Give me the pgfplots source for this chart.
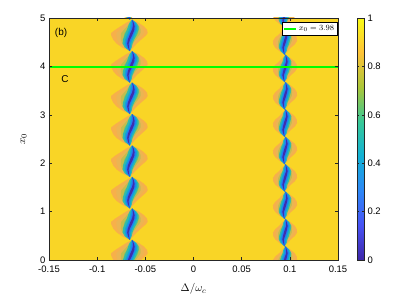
\documentclass[border=0pt]{standalone}
\usepackage{pgfplots}
\usepackage{pgfplotstable}
\pgfplotsset{compat=1.18}
\usepackage{fontspec}
\setmainfont{Liberation Sans}
\pgfplotsset{colormap={parula}{rgb=(0.2422,0.1504,0.6603) rgb=(0.2810,0.3228,0.9579) rgb=(0.1786,0.5289,0.9682) rgb=(0.0689,0.6948,0.8394) rgb=(0.2161,0.7843,0.5923) rgb=(0.6720,0.7793,0.2227) rgb=(0.9970,0.7659,0.2199) rgb=(0.9769,0.9839,0.0805)}}
\definecolor{bgc}{rgb}{0.975,0.835,0.15}
\definecolor{ca}{rgb}{0.97,0.69,0.29}
\definecolor{cb}{rgb}{0.92,0.71,0.32}
\definecolor{cc}{rgb}{0.76,0.74,0.31}
\definecolor{cd}{rgb}{0.48,0.77,0.42}
\definecolor{ce}{rgb}{0.20,0.73,0.66}
\definecolor{cf}{rgb}{0.06,0.65,0.86}
\definecolor{cg}{rgb}{0.15,0.47,0.96}
\definecolor{ch}{rgb}{0.24,0.18,0.68}
\definecolor{lgreen}{RGB}{0,255,0}
% left-column feature shape (x: offset in Delta, y: offset in x0)
\pgfplotstableread{
x y
-0.0010 -0.325
0.00245 -0.25
0.0061 -0.17
0.0105 -0.09
0.0157 0.0
0.0175 0.05
0.0167 0.12
0.0134 0.19
0.0083 0.26
0.0012 0.325
-0.0050 0.26
-0.0105 0.19
-0.0160 0.12
-0.0205 0.05
-0.0204 0.0
-0.0183 -0.09
-0.0148 -0.17
-0.0090 -0.25
-0.0010 -0.325
}\LLa
\pgfplotstableread{
x y
-0.0010 -0.325
0.00125 -0.25
0.0039 -0.17
0.0075 -0.09
0.0119 0.0
0.0135 0.05
0.01325 0.12
0.0109 0.19
0.0069 0.26
0.0012 0.325
-0.0031 0.26
-0.0071 0.19
-0.0113 0.12
-0.0150 0.05
-0.0152 0.0
-0.0142 -0.09
-0.0118 -0.17
-0.0073 -0.25
-0.0010 -0.325
}\LLb
\pgfplotstableread{
x y
-0.0010 -0.325
0.0002 -0.25
0.00195 -0.17
0.00484 -0.09
0.00855 0.0
0.0100 0.05
0.01024 0.12
0.00867 0.19
0.00565 0.26
0.0012 0.325
-0.00135 0.26
-0.00393 0.19
-0.00696 0.12
-0.0100 0.05
-0.01045 0.0
-0.01036 -0.09
-0.00905 -0.17
-0.0058 -0.25
-0.0010 -0.325
}\LLc
\pgfplotstableread{
x y
-0.0010 -0.325
-0.00055 -0.25
0.000575 -0.17
0.00294 -0.09
0.006175 0.0
0.0075 0.05
0.00809 0.12
0.0071 0.19
0.00478 0.26
0.0012 0.325
-0.000125 0.26
-0.001725 0.19
-0.00395 0.12
-0.0065 0.05
-0.007125 0.0
-0.0077 -0.09
-0.007125 -0.17
-0.00475 -0.25
-0.0010 -0.325
}\LLd
\pgfplotstableread{
x y
-0.0010 -0.325
0.0008 -0.25
0.001675 -0.17
0.003335 -0.09
0.0055 0.0
0.0065 0.05
0.0080 0.12
0.00795 0.19
0.0058 0.26
0.0012 0.325
-0.0014 0.26
-0.00285 0.19
-0.0040 0.12
-0.0055 0.05
-0.0065 0.0
-0.008305 -0.09
-0.008525 -0.17
-0.0064 -0.25
-0.0010 -0.325
}\LLe
\pgfplotstableread{
x y
-0.0010 -0.325
-0.00022 -0.25
0.00023 -0.17
0.001686 -0.09
0.0038 0.0
0.0048 0.05
0.0063 0.12
0.00642 0.19
0.00478 0.26
0.0012 0.325
-0.00002 0.26
-0.00078 0.19
-0.0017 0.12
-0.0032 0.05
-0.0042 0.0
-0.006074 -0.09
-0.00657 -0.17
-0.00502 -0.25
-0.0010 -0.325
}\LLf
\pgfplotstableread{
x y
-0.0010 -0.325
-0.00112 -0.25
-0.001045 -0.17
0.000231 -0.09
0.0023 0.0
0.0033 0.05
0.0048 0.12
0.00507 0.19
0.00388 0.26
0.0012 0.325
0.00094 0.26
0.00066 0.19
-0.0001 0.12
-0.0016 0.05
-0.0026 0.0
-0.004522 -0.09
-0.00521 -0.17
-0.00406 -0.25
-0.0010 -0.325
}\LLg
\pgfplotstableread{
x y
-0.0010 -0.325
-0.00211 -0.25
-0.002285 -0.17
-0.00101 -0.09
0.001235 0.0
0.0023 0.05
0.00362 0.12
0.00382 0.19
0.00296 0.26
0.0012 0.325
0.001975 0.26
0.002055 0.19
0.00121 0.12
-0.0005 0.05
-0.001425 0.0
-0.00314 -0.09
-0.003825 -0.17
-0.00295 -0.25
-0.0010 -0.325
}\LLh
% right-column feature shape
\pgfplotstableread{
x y
-0.0005 -0.283
0.002875 -0.21
0.006125 -0.14
0.01025 -0.07
0.0125 0
0.01225 0.07
0.010125 0.14
0.005875 0.21
0.0005 0.283
-0.002875 0.21
-0.006125 0.14
-0.01025 0.07
-0.0125 0
-0.01225 -0.07
-0.010125 -0.14
-0.005875 -0.21
-0.0005 -0.283
}\RRa
\pgfplotstableread{
x y
-0.0005 -0.283
0.001825 -0.21
0.004175 -0.14
0.00755 -0.07
0.0095 0
0.00955 0.07
0.008175 0.14
0.004825 0.21
0.0005 0.283
-0.001825 0.21
-0.004175 0.14
-0.00755 0.07
-0.0095 0
-0.00955 -0.07
-0.008175 -0.14
-0.004825 -0.21
-0.0005 -0.283
}\RRb
\pgfplotstableread{
x y
-0.0005 -0.283
0.00095 -0.21
0.00255 -0.14
0.0053 -0.07
0.0070 0
0.0073 0.07
0.00655 0.14
0.00395 0.21
0.0005 0.283
-0.00095 0.21
-0.00255 0.14
-0.0053 0.07
-0.0070 0
-0.0073 -0.07
-0.00655 -0.14
-0.00395 -0.21
-0.0005 -0.283
}\RRc
\pgfplotstableread{
x y
-0.0005 -0.283
0.00025 -0.21
0.00125 -0.14
0.0035 -0.07
0.0050 0
0.0055 0.07
0.00525 0.14
0.00325 0.21
0.0005 0.283
-0.00025 0.21
-0.00125 0.14
-0.0035 0.07
-0.0050 0
-0.0055 -0.07
-0.00525 -0.14
-0.00325 -0.21
-0.0005 -0.283
}\RRd
\pgfplotstableread{
x y
-0.0005 -0.283
0.00175 -0.21
0.0025 -0.14
0.0040 -0.07
0.0050 0
0.0060 0.07
0.0065 0.14
0.00475 0.21
0.0005 0.283
-0.00175 0.21
-0.0025 0.14
-0.0040 0.07
-0.0050 0
-0.0060 -0.07
-0.0065 -0.14
-0.00475 -0.21
-0.0005 -0.283
}\RRe
\pgfplotstableread{
x y
-0.0005 -0.283
0.000775 -0.21
0.00115 -0.14
0.0025 -0.07
0.0035 0
0.0045 0.07
0.00515 0.14
0.003775 0.21
0.0005 0.283
-0.000775 0.21
-0.00115 0.14
-0.0025 0.07
-0.0035 0
-0.0045 -0.07
-0.00515 -0.14
-0.003775 -0.21
-0.0005 -0.283
}\RRf
\pgfplotstableread{
x y
-0.0005 -0.283
0.0000 -0.21
0.00007 -0.14
0.0013 -0.07
0.0023 0
0.0033 0.07
0.00407 0.14
0.0030 0.21
0.0005 0.283
0.0000 0.21
-0.00007 0.14
-0.0013 0.07
-0.0023 0
-0.0033 -0.07
-0.00407 -0.14
-0.0030 -0.21
-0.0005 -0.283
}\RRg
\pgfplotstableread{
x y
-0.0005 -0.283
-0.00108 -0.21
-0.00122 -0.14
0.00008 -0.07
0.0012 0
0.00208 0.07
0.00278 0.14
0.00192 0.21
0.0005 0.283
0.00108 0.21
0.00122 0.14
-0.00008 0.07
-0.0012 0
-0.00208 -0.07
-0.00278 -0.14
-0.00192 -0.21
-0.0005 -0.283
}\RRh
\begin{document}
\begin{tikzpicture}
\useasboundingbox (0,0) rectangle (415bp,294bp);
\begin{axis}[
  at={(49bp,34bp)}, anchor=south west,
  scale only axis, width=289bp, height=242bp,
  xmin=-0.15, xmax=0.15, ymin=0, ymax=5,
  xtick={-0.15,-0.1,-0.05,0,0.05,0.1,0.15},
  xticklabels={-0.15,-0.1,-0.05,0,0.05,0.1,0.15},
  ytick={0,1,2,3,4,5},
  yticklabels={0,1,2,3,4,5},
  tick align=inside, major tick length=3bp,
  tick style={line width=0.5bp, draw=black!85},
  tick label style={font=\fontsize{9.5}{10}\selectfont},
  xticklabel style={yshift=-2bp},
  /pgf/number format/assume math mode=true,
  axis on top,
  axis line style={line width=0.5bp, draw=black!85},
  xlabel={$\Delta/\omega_c$},
  xlabel style={font=\fontsize{11}{12}\selectfont, at={(axis description cs:0.5,-0.082)}, anchor=north},
  ylabel={$x_0$},
  ylabel style={font=\fontsize{11}{12}\selectfont, at={(axis description cs:-0.088,0.5)}, anchor=center},
  colorbar, colormap name=parula, point meta min=0, point meta max=1,
  colorbar style={
    at={(1.066,1)}, anchor=north west, width=7bp,
    ytick={0,0.2,0.4,0.6,0.8,1},
    yticklabels={0,0.2,0.4,0.6,0.8,1},
    tick align=inside, major tick length=2bp,
    tick style={line width=0.5bp, draw=black!85},
    yticklabel style={font=\fontsize{9.5}{10}\selectfont},
    axis line style={line width=0.5bp, draw=black!85},
  },
  legend style={at={(0.998,0.982)}, anchor=north east, font=\fontsize{8}{9}\selectfont,
    inner sep=1bp, draw=black, line width=0.5bp, cells={anchor=west}},
  legend image code/.code={\draw[#1] (0bp,0bp) -- (12bp,0bp);},
]
\addplot[fill=bgc, draw=none, forget plot] coordinates {(-0.15,0) (0.15,0) (0.15,5) (-0.15,5)};
\pgfplotsinvokeforeach{0.09,0.74,1.39,2.04,2.69,3.34,3.99,4.64,5.29}{
  \addplot[fill=ca, draw=none, forget plot] table[x expr=\thisrow{x}-0.065, y expr=\thisrow{y}+#1] {\LLa};
  \addplot[fill=cb, draw=none, forget plot] table[x expr=\thisrow{x}-0.065, y expr=\thisrow{y}+#1] {\LLb};
  \addplot[fill=cc, draw=none, forget plot] table[x expr=\thisrow{x}-0.065, y expr=\thisrow{y}+#1] {\LLc};
  \addplot[fill=cd, draw=none, forget plot] table[x expr=\thisrow{x}-0.065, y expr=\thisrow{y}+#1] {\LLd};
  \addplot[fill=ce, draw=none, forget plot] table[x expr=\thisrow{x}-0.065, y expr=\thisrow{y}+#1] {\LLe};
  \addplot[fill=cf, draw=none, forget plot] table[x expr=\thisrow{x}-0.065, y expr=\thisrow{y}+#1] {\LLf};
  \addplot[fill=cg, draw=none, forget plot] table[x expr=\thisrow{x}-0.065, y expr=\thisrow{y}+#1] {\LLg};
  \addplot[fill=ch, draw=none, forget plot] table[x expr=\thisrow{x}-0.065, y expr=\thisrow{y}+#1] {\LLh};
}
\pgfplotsinvokeforeach{0,0.566,1.131,1.697,2.263,2.829,3.394,3.96,4.526,5.091}{
  \addplot[fill=ca, draw=none, forget plot] table[x expr=\thisrow{x}+0.095, y expr=\thisrow{y}+#1] {\RRa};
  \addplot[fill=cb, draw=none, forget plot] table[x expr=\thisrow{x}+0.095, y expr=\thisrow{y}+#1] {\RRb};
  \addplot[fill=cc, draw=none, forget plot] table[x expr=\thisrow{x}+0.095, y expr=\thisrow{y}+#1] {\RRc};
  \addplot[fill=cd, draw=none, forget plot] table[x expr=\thisrow{x}+0.095, y expr=\thisrow{y}+#1] {\RRd};
  \addplot[fill=ce, draw=none, forget plot] table[x expr=\thisrow{x}+0.095, y expr=\thisrow{y}+#1] {\RRe};
  \addplot[fill=cf, draw=none, forget plot] table[x expr=\thisrow{x}+0.095, y expr=\thisrow{y}+#1] {\RRf};
  \addplot[fill=cg, draw=none, forget plot] table[x expr=\thisrow{x}+0.095, y expr=\thisrow{y}+#1] {\RRg};
  \addplot[fill=ch, draw=none, forget plot] table[x expr=\thisrow{x}+0.095, y expr=\thisrow{y}+#1] {\RRh};
}
% the x0 = 3.98 cut
\addplot[fill=lgreen, draw=none, forget plot] coordinates {(-0.15,3.962) (0.15,3.962) (0.15,3.998) (-0.15,3.998)};
\addplot[draw=lgreen, line width=1.6bp, mark=none] coordinates {(-0.15,3.98) (0.15,3.98)};
\addlegendentry{$x_0=3.98$}
\node[font=\fontsize{10}{11}\selectfont] at (axis cs:-0.1375,4.70) {(b)};
\node[font=\fontsize{10}{11}\selectfont] at (axis cs:-0.1335,3.73) {C};
\end{axis}
\end{tikzpicture}
\end{document}
